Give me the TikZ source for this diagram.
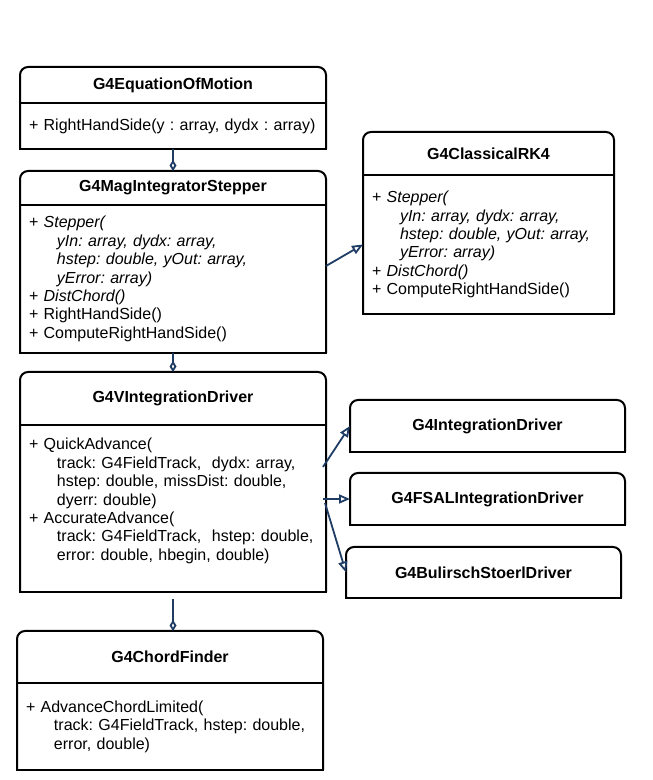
\documentclass[tikz,border=0pt]{standalone}
\usepackage{fontspec}
\setmainfont{Liberation Sans}
\usepackage{xcolor}
\usetikzlibrary{arrows.meta,positioning}

\definecolor{navy}{RGB}{30,60,100}
\newcommand{\ind}{\hspace*{28pt}}
\frenchspacing

\begin{document}
\begin{tikzpicture}[x=1pt, y=1pt,
	uml/.style={inner sep=0pt, outer sep=0pt, font=\fontsize{16}{18.4}\selectfont},
	head/.style={uml, font=\fontsize{16}{18.4}\selectfont\bfseries, align=center, anchor=north},
	body/.style={uml, inner xsep=9pt, align=left},
	classframe/.style={line width=2pt, rounded corners=8pt},
	conn/.style={draw=navy, line width=1.8pt},
	agg/.style={conn, -{Diamond[open, length=11pt, width=7pt]}},
	inh/.style={conn, -{Triangle[open, length=11pt, width=9pt]}}]
	\useasboundingbox (0,0) rectangle (653,780);
	% left column
	\node[head, minimum width=306pt, minimum height=36pt] (eom-head) at (173,713) {G4EquationOfMotion};
	\node[body, below=0pt of eom-head, text width=288pt, minimum height=46pt] (eom-body)
		{+ RightHandSide(y : array, dydx : array)};
	\node[head, minimum width=306pt, minimum height=34pt] (mis-head) at (173,609) {G4MagIntegratorStepper};
	\node[body, below=0pt of mis-head, text width=288pt, minimum height=148pt] (mis-body)
		{+ \textit{Stepper(}\\
		\ind\textit{yIn: array, dydx: array,}\\
		\ind\textit{hstep: double, yOut: array,}\\
		\ind\textit{yError: array)}\\
		+ \textit{DistChord()}\\
		+ RightHandSide()\\
		+ ComputeRightHandSide()};
	\node[head, minimum width=306pt, minimum height=53pt] (vid-head) at (173,408) {G4VIntegrationDriver};
	\node[body, below=0pt of vid-head, text width=288pt, minimum height=167pt] (vid-body)
		{+ QuickAdvance(\\
		\ind track: G4FieldTrack,\ \ dydx: array,\\
		\ind hstep: double, missDist: double,\\
		\ind dyerr: double)\\
		+ AccurateAdvance(\\
		\ind track: G4FieldTrack,\ \ hstep: double,\\
		\ind error: double, hbegin, double)\\ \mbox{}};
	\node[head, minimum width=306pt, minimum height=52pt] (cf-head) at (170,149) {G4ChordFinder};
	\node[body, below=0pt of cf-head, text width=288pt, minimum height=87pt] (cf-body)
		{+ AdvanceChordLimited(\\
		\ind track: G4FieldTrack, hstep: double,\\
		\ind error, double)};
	% right column
	\node[head, minimum width=251pt, minimum height=43pt] (rk4-head) at (488.5,648) {G4ClassicalRK4};
	\node[body, below=0pt of rk4-head, text width=233pt, minimum height=139pt] (rk4-body)
		{+ \textit{Stepper(}\\
		\ind\textit{yIn: array, dydx: array,}\\
		\ind\textit{hstep: double, yOut: array,}\\
		\ind\textit{yError: array)}\\
		+ \textit{DistChord()}\\
		+ ComputeRightHandSide()};
	\node[head, minimum width=275pt, minimum height=52pt] (id) at (487.5,380) {G4IntegrationDriver};
	\node[head, minimum width=275pt, minimum height=52pt] (fsal) at (487.5,307) {G4FSALIntegrationDriver};
	\node[head, minimum width=275pt, minimum height=51pt] (bsd) at (483.5,233) {G4BulirschStoerlDriver};
	% outlines
	\foreach \cls in {eom,mis,vid,cf,rk4} {
		\draw[classframe] (\cls-body.south west) -- (\cls-head.north west) -- (\cls-head.north east) -- (\cls-body.south east);
		\draw[line width=2pt, line cap=rect] (\cls-body.south west) -- (\cls-body.south east);
		\draw[line width=2.5pt] (\cls-head.south west) -- (\cls-head.south east);
	}
	\foreach \cls in {id,fsal,bsd} {
		\draw[classframe] (\cls.south west) -- (\cls.north west) -- (\cls.north east) -- (\cls.south east);
		\draw[line width=2pt, line cap=rect] (\cls.south west) -- (\cls.south east);
	}
	% connectors
	\draw[agg] (eom-body.south) -- (mis-head.north);
	\draw[agg] (mis-body.south) -- (vid-head.north);
	\draw[agg] ([yshift=-7pt]vid-body.south) -- (vid-body.south |- cf-head.north);
	\draw[inh] ([yshift=13pt]mis-body.east) -- (rk4-body.west);
	\draw[inh] ([xshift=-3pt, yshift=41.5pt]vid-body.east) -- (id.west);
	\draw[inh] ([xshift=-3pt]vid-body.east |- fsal.west) -- (fsal.west);
	\draw[inh] ([xshift=-1pt, yshift=5.5pt]vid-body.east) -- (bsd.west);
\end{tikzpicture}
\end{document}
